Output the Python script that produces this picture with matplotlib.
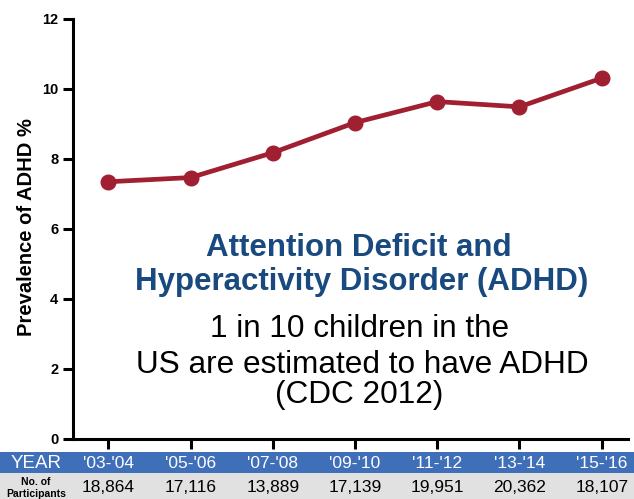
import matplotlib.pyplot as plt
from matplotlib.patches import Rectangle

# ==========================
# DATA
# ==========================
years = ["'03-'04", "'05-'06", "'07-'08", "'09-'10", "'11-'12", "'13-'14", "'15-'16"]
prevalence = [7.35, 7.47, 8.18, 9.04, 9.64, 9.49, 10.31]
participants = ["18,864", "17,116", "13,889", "17,139", "19,951", "20,362", "18,107"]

RED = "#a01f31"
BLUE_ROW = "#3e6fb8"
GRAY_ROW = "#e1e1e1"
TITLE_BLUE = "#18497f"

plt.rcParams["font.family"] = ["Liberation Sans", "DejaVu Sans"]

fig = plt.figure(figsize=(6.34, 4.99), dpi=100)
ax = fig.add_axes([73 / 634, 60 / 499, 555 / 634, 420 / 499])

x = list(range(len(years)))
ax.plot(x, prevalence, color=RED, lw=3.4, marker="o", ms=10.5, zorder=3)

ax.set_xlim(-0.43, 6.32)
ax.set_ylim(0, 12)
ax.set_yticks([0, 2, 4, 6, 8, 10, 12])
ax.set_xticks(x)
ax.set_xticklabels([])
for s in ["top", "right"]:
    ax.spines[s].set_visible(False)
for s in ["left", "bottom"]:
    ax.spines[s].set_linewidth(2.2)
ax.tick_params(axis="both", direction="out", length=7.5, width=2.2)
ax.tick_params(axis="y", labelsize=10.5, pad=3)
for lbl in ax.get_yticklabels():
    lbl.set_fontweight("bold")
ax.set_ylabel("Prevalence of ADHD %", fontsize=14.5, fontweight="bold")
ax.yaxis.set_label_coords(-0.066, 0.505)

# text in the plot area (pixel positions, baseline)
def ftext(px, py, s, va="baseline", **kw):
    fig.text(px / 634, 1 - py / 499, s, ha="center", va=va, **kw)

ftext(359, 256, "Attention Deficit and", fontsize=22.5, fontweight="bold", color=TITLE_BLUE)
ftext(362, 290, "Hyperactivity Disorder (ADHD)", fontsize=22.5, fontweight="bold", color=TITLE_BLUE)
ftext(360, 337, "1 in 10 children in the", fontsize=22.7, color="black")
ftext(362, 373, "US are estimated to have ADHD", fontsize=22.7, color="black")
ftext(359, 403, "(CDC 2012)", fontsize=22.7, color="black")

# ==========================
# TABLE BELOW THE AXIS
# ==========================
fig.patches.append(Rectangle((0, 26 / 499), 1, 21 / 499, transform=fig.transFigure,
                             facecolor=BLUE_ROW, edgecolor="none"))
fig.patches.append(Rectangle((0, 0), 1, 26 / 499, transform=fig.transFigure,
                             facecolor=GRAY_ROW, edgecolor="none"))

ftext(36, 463, "YEAR", va="center", fontsize=13.5, color="white")
ftext(36, 482, "No. of", va="center", fontsize=7.5, fontweight="bold", color="black")
ftext(36, 494, "Participants", va="center", fontsize=7.5, fontweight="bold", color="black")
for i in range(len(years)):
    px = ax.transData.transform((i, 0))[0]
    fig.text(px / 634, 1 - 463 / 499, years[i], ha="center", va="center",
             fontsize=12.5, color="white")
    fig.text(px / 634, 1 - 487 / 499, participants[i], ha="center", va="center",
             fontsize=12.5, color="black")

fig.savefig("out.png", dpi=100)
